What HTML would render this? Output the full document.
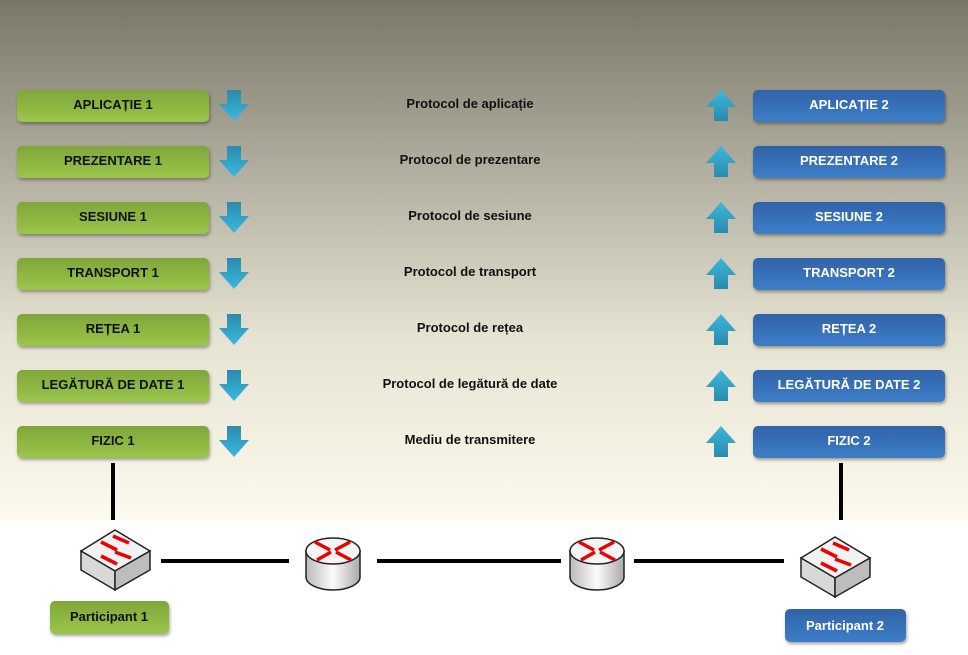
<!DOCTYPE html>
<html><head><meta charset="utf-8"><style>
body{margin:0;width:968px;height:650px;overflow:hidden;background:#fff;font-family:"Liberation Sans",sans-serif}
</style></head><body>
<svg width="968" height="650" xmlns="http://www.w3.org/2000/svg" font-family="Liberation Sans, sans-serif" font-weight="bold">
<defs>
<linearGradient id="bg" x1="0" y1="0" x2="0" y2="1">
<stop offset="0" stop-color="#7a7668"/><stop offset="0.35" stop-color="#b5b2a3"/><stop offset="0.65" stop-color="#e6e3d2"/><stop offset="1" stop-color="#fdfaee"/></linearGradient>
<linearGradient id="gr" x1="0" y1="0" x2="0" y2="1"><stop offset="0" stop-color="#7fa63a"/><stop offset="1" stop-color="#9cc64a"/></linearGradient>
<linearGradient id="bl" x1="0" y1="0" x2="0" y2="1"><stop offset="0" stop-color="#3163a8"/><stop offset="1" stop-color="#3d7ec9"/></linearGradient>
<linearGradient id="ad" x1="0" y1="0" x2="0" y2="1"><stop offset="0" stop-color="#2a8aae"/><stop offset="1" stop-color="#3cb8dc"/></linearGradient>
<linearGradient id="au" x1="0" y1="0" x2="0" y2="1"><stop offset="0" stop-color="#3cb8dc"/><stop offset="1" stop-color="#2a8aae"/></linearGradient>
<linearGradient id="cyl" x1="0" y1="0" x2="1" y2="0"><stop offset="0" stop-color="#bbb"/><stop offset="0.5" stop-color="#fafafa"/><stop offset="1" stop-color="#aaa"/></linearGradient>
<filter id="sh"><feDropShadow dx="1" dy="2" stdDeviation="1.5" flood-opacity="0.35"/></filter>
<g id="down"><path d="M8 0h14v14h8l-15 17-15-17h8z" fill="url(#ad)"/></g>
<g id="up"><path d="M15 0l15 17h-8v14h-14v-14h-8z" fill="url(#au)"/></g>
<g id="router">
<path d="M0 14v26a27 13 0 0 0 54 0v-26z" fill="url(#cyl)" stroke="#222" stroke-width="1.5"/>
<ellipse cx="27" cy="14" rx="27" ry="13" fill="#f4f4f4" stroke="#222" stroke-width="1.5"/>
<g stroke="#e00" stroke-width="3.5" fill="#e00">
<line x1="9" y1="5" x2="24" y2="13"/><line x1="45" y1="23" x2="30" y2="15"/>
<line x1="44" y1="5" x2="29" y2="13"/><line x1="11" y1="23" x2="25" y2="15"/>
</g></g>
<g id="switch">
<path d="M0 21l34-21 35 21-35 20z" fill="#f2f2f2" stroke="#222" stroke-width="1.5"/>
<path d="M0 21v19l34 20v-19z" fill="#d8d8d8" stroke="#222" stroke-width="1.5"/>
<path d="M69 21v19l-35 20v-19z" fill="#bdbdbd" stroke="#222" stroke-width="1.5"/>
<g stroke="#e00" stroke-width="3.5"><line x1="32" y1="6" x2="48" y2="13"/><line x1="20" y1="12" x2="36" y2="20"/><line x1="34" y1="22" x2="50" y2="28"/><line x1="20" y1="26" x2="36" y2="34"/></g>
</g>
</defs>
<rect width="968" height="521" fill="url(#bg)"/>
<g font-size="13" text-anchor="middle">
<g filter="url(#sh)" fill="url(#gr)">
<rect x="17" y="90" width="192" height="32" rx="5"/><rect x="17" y="146" width="192" height="32" rx="5"/><rect x="17" y="202" width="192" height="32" rx="5"/><rect x="17" y="258" width="192" height="32" rx="5"/><rect x="17" y="314" width="192" height="32" rx="5"/><rect x="17" y="370" width="192" height="32" rx="5"/><rect x="17" y="426" width="192" height="32" rx="5"/>
<rect x="50" y="601" width="119" height="33" rx="5"/>
</g>
<g filter="url(#sh)" fill="url(#bl)">
<rect x="753" y="90" width="192" height="32" rx="5"/><rect x="753" y="146" width="192" height="32" rx="5"/><rect x="753" y="202" width="192" height="32" rx="5"/><rect x="753" y="258" width="192" height="32" rx="5"/><rect x="753" y="314" width="192" height="32" rx="5"/><rect x="753" y="370" width="192" height="32" rx="5"/><rect x="753" y="426" width="192" height="32" rx="5"/>
<rect x="785" y="609" width="121" height="33" rx="5"/>
</g>
<g fill="#111">
<text x="113" y="109">APLICAȚIE 1</text><text x="113" y="165">PREZENTARE 1</text><text x="113" y="221">SESIUNE 1</text><text x="113" y="277">TRANSPORT 1</text><text x="113" y="333">REȚEA 1</text><text x="113" y="389">LEGĂTURĂ DE DATE 1</text><text x="113" y="445">FIZIC 1</text>
<text x="109" y="621">Participant 1</text>
<text x="470" y="108">Protocol de aplicație</text><text x="470" y="164">Protocol de prezentare</text><text x="470" y="220">Protocol de sesiune</text><text x="470" y="276">Protocol de transport</text><text x="470" y="332">Protocol de rețea</text><text x="470" y="388">Protocol de legătură de date</text><text x="470" y="444">Mediu de transmitere</text>
</g>
<g fill="#fff">
<text x="849" y="109">APLICAȚIE 2</text><text x="849" y="165">PREZENTARE 2</text><text x="849" y="221">SESIUNE 2</text><text x="849" y="277">TRANSPORT 2</text><text x="849" y="333">REȚEA 2</text><text x="849" y="389">LEGĂTURĂ DE DATE 2</text><text x="849" y="445">FIZIC 2</text>
<text x="845" y="630">Participant 2</text>
</g>
</g>
<use href="#down" x="219" y="90"/><use href="#down" x="219" y="146"/><use href="#down" x="219" y="202"/><use href="#down" x="219" y="258"/><use href="#down" x="219" y="314"/><use href="#down" x="219" y="370"/><use href="#down" x="219" y="426"/>
<use href="#up" x="706" y="90"/><use href="#up" x="706" y="146"/><use href="#up" x="706" y="202"/><use href="#up" x="706" y="258"/><use href="#up" x="706" y="314"/><use href="#up" x="706" y="370"/><use href="#up" x="706" y="426"/>
<g stroke="#000" stroke-width="4">
<line x1="113" y1="463" x2="113" y2="520"/><line x1="841" y1="463" x2="841" y2="520"/>
<line x1="161" y1="561" x2="289" y2="561"/><line x1="377" y1="561" x2="561" y2="561"/><line x1="634" y1="561" x2="784" y2="561"/>
</g>
<use href="#switch" x="81" y="530"/>
<use href="#router" x="306" y="537"/>
<use href="#router" x="570" y="537"/>
<use href="#switch" x="801" y="537"/>
</svg>
</body></html>
